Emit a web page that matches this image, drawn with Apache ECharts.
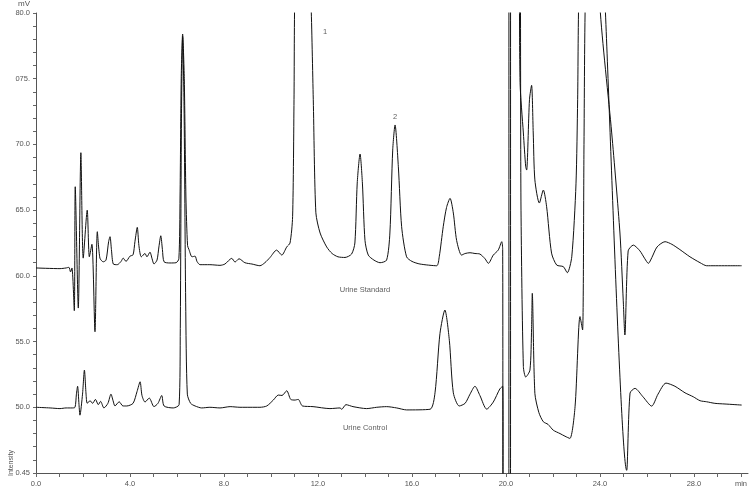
<!DOCTYPE html>
<html>
<head>
<meta charset="utf-8">
<script src="https://cdn.jsdelivr.net/npm/echarts@6/dist/echarts.min.js"></script>
<style>
  html, body { margin: 0; padding: 0; background: #fff; }
  #chart { width: 750px; height: 488px; }
</style>
</head>
<body>
<div id="chart"></div>
<script>
// retention time (min) and signal (mV), Urine Standard (upper trace)
const standardTime = [0.00, 1.02, 1.28, 1.40, 1.47, 1.53, 1.63, 1.67, 1.80, 1.91, 2.01, 2.18, 2.27, 2.38, 2.51, 2.61, 2.72, 2.86, 2.98, 3.09, 3.15, 3.21, 3.29, 3.46, 3.62, 3.71, 3.83, 4.00, 4.13, 4.21, 4.31, 4.38, 4.48, 4.64, 4.72, 4.85, 4.94, 5.02, 5.15, 5.23, 5.31, 5.38, 5.45, 5.70, 5.96, 6.08, 6.13, 6.18, 6.24, 6.31, 6.38, 6.45, 6.51, 6.64, 6.77, 6.85, 6.98, 7.40, 7.83, 8.04, 8.33, 8.47, 8.64, 8.89, 9.19, 9.53, 9.74, 9.96, 10.24, 10.46, 10.67, 10.81, 10.92, 10.98, 11.02, 11.35, 11.70, 11.80, 11.91, 12.09, 12.37, 12.60, 12.85, 13.15, 13.43, 13.57, 13.67, 13.79, 13.89, 14.00, 14.14, 14.38, 14.64, 14.92, 15.06, 15.18, 15.28, 15.42, 15.56, 15.77, 16.00, 16.34, 17.05, 17.16, 17.33, 17.47, 17.62, 17.76, 17.90, 18.11, 18.26, 18.47, 18.68, 18.89, 19.11, 19.25, 19.46, 19.67, 19.82, 19.86, 19.88, 20.12, 20.13, 20.50, 20.60, 20.74, 20.84, 20.88, 21.00, 21.09, 21.16, 21.23, 21.42, 21.59, 21.73, 21.94, 22.16, 22.44, 22.61, 22.80, 22.98, 23.05, 23.11, 23.55, 24.00, 24.50, 24.85, 24.99, 25.06, 25.20, 25.42, 25.70, 25.91, 26.06, 26.21, 26.43, 26.77, 27.06, 27.40, 27.83, 28.26, 28.54, 30.03]
const standardMV = [60.60, 60.55, 60.60, 60.65, 60.30, 60.60, 57.35, 66.78, 57.55, 69.37, 61.35, 65.00, 61.45, 62.40, 55.75, 63.36, 61.35, 61.07, 61.20, 62.60, 62.98, 62.00, 60.90, 60.85, 61.10, 61.35, 61.10, 61.50, 61.60, 62.60, 63.69, 62.30, 61.45, 61.70, 61.45, 61.80, 61.30, 60.90, 61.20, 62.20, 63.05, 62.00, 61.07, 60.98, 61.00, 61.30, 66.00, 75.00, 78.40, 75.00, 66.00, 62.30, 62.00, 61.45, 61.50, 61.10, 60.85, 60.85, 60.80, 60.90, 61.33, 61.05, 61.30, 61.00, 60.90, 60.77, 61.00, 61.40, 61.96, 61.58, 62.20, 62.50, 64.50, 73.40, 82.00, 98.00, 81.00, 73.40, 64.80, 63.26, 62.20, 61.70, 61.45, 61.40, 61.66, 62.50, 67.06, 69.27, 67.06, 62.70, 61.58, 61.20, 61.00, 61.20, 63.26, 69.57, 71.48, 68.30, 63.74, 61.45, 61.10, 60.90, 60.77, 61.45, 63.74, 65.20, 65.90, 64.78, 62.70, 61.58, 61.70, 61.76, 61.70, 61.66, 61.30, 60.95, 61.58, 61.96, 62.60, 62.00, 40.00, 40.00, 90.00, 90.00, 74.70, 70.87, 68.30, 68.05, 73.40, 74.50, 70.87, 67.30, 65.54, 66.53, 65.26, 61.73, 60.82, 60.70, 60.24, 61.45, 67.00, 73.40, 82.00, 100.00, 80.50, 70.87, 63.26, 58.15, 55.50, 61.90, 62.34, 61.90, 61.30, 60.95, 61.40, 62.20, 62.60, 62.40, 62.00, 61.45, 61.00, 60.77, 60.77]

// Urine Control (lower trace)
const controlTime = [0.00, 0.60, 1.02, 1.28, 1.53, 1.66, 1.72, 1.77, 1.83, 1.87, 1.98, 2.06, 2.13, 2.18, 2.30, 2.41, 2.53, 2.65, 2.75, 2.89, 3.06, 3.19, 3.28, 3.36, 3.54, 3.70, 3.86, 4.13, 4.30, 4.43, 4.51, 4.64, 4.82, 5.02, 5.19, 5.35, 5.45, 5.84, 6.09, 6.14, 6.19, 6.24, 6.30, 6.37, 6.44, 6.58, 6.77, 7.05, 7.40, 7.83, 8.26, 8.68, 9.11, 9.53, 9.82, 10.10, 10.31, 10.47, 10.67, 10.84, 11.02, 11.16, 11.34, 11.79, 12.51, 12.94, 13.01, 13.19, 13.49, 14.07, 14.50, 14.92, 15.35, 15.77, 16.77, 16.98, 17.19, 17.40, 17.59, 17.76, 18.01, 18.26, 18.47, 18.68, 18.89, 19.18, 19.46, 19.74, 19.86, 19.89, 20.19, 20.20, 20.56, 20.64, 20.74, 20.84, 21.02, 21.09, 21.12, 21.23, 21.40, 21.59, 21.79, 22.01, 22.30, 22.51, 22.72, 22.94, 23.15, 23.26, 23.32, 23.39, 23.80, 24.21, 25.14, 25.28, 25.49, 25.83, 26.20, 26.47, 26.81, 27.19, 27.62, 27.97, 28.26, 28.54, 28.89, 29.32, 30.03]
const controlMV = [50.00, 49.95, 49.90, 49.95, 49.95, 50.00, 51.00, 51.60, 50.20, 49.40, 51.00, 52.83, 51.00, 50.30, 50.50, 50.30, 50.60, 50.20, 50.45, 49.95, 50.30, 51.00, 50.50, 50.10, 50.42, 50.10, 50.10, 50.30, 51.20, 51.94, 50.90, 50.40, 50.70, 50.05, 50.30, 50.90, 50.10, 49.95, 50.20, 56.00, 72.00, 78.20, 73.00, 58.00, 51.00, 50.30, 50.10, 49.95, 50.00, 49.95, 50.05, 50.00, 50.00, 50.00, 50.10, 50.55, 50.93, 50.90, 51.26, 50.60, 50.55, 50.60, 50.10, 50.05, 49.90, 49.95, 49.85, 50.20, 50.05, 49.90, 50.00, 50.05, 49.95, 49.80, 49.85, 51.10, 55.60, 57.40, 55.10, 51.10, 50.10, 50.30, 51.00, 51.60, 50.90, 49.86, 50.40, 51.40, 51.60, 40.00, 40.00, 90.00, 90.00, 65.00, 53.10, 52.30, 52.83, 56.00, 58.67, 51.06, 49.60, 48.90, 48.70, 48.26, 48.00, 47.80, 47.63, 50.04, 56.90, 55.88, 70.00, 82.00, 100.00, 81.00, 45.20, 51.08, 51.44, 50.80, 50.09, 51.00, 51.84, 51.60, 51.10, 50.80, 50.50, 50.42, 50.30, 50.25, 50.17]

// axis tick labels as printed on the original
const xLabelValues = [0, 4, 8, 12, 16, 20, 24, 28, 30]
const xLabelTexts = ['0.0', '4.0', '8.0', '12.0', '16.0', '20.0', '24.0', '28.0', 'min']
const yLabelValues = [45, 50, 55, 60, 65, 70, 75, 80]
const yLabelTexts = ['0.45', '50.0', '55.0', '60.0', '65.0', '70.0', '075.', '80.0']

// peak numbers and trace names
const noteTexts = ['1', '2', 'Urine Standard', 'Urine Control']
const noteTime = [12.3, 15.28, 14.0, 14.0]
const noteMV = [78.55, 72.1, 58.9, 48.4]

const zip = (xs, ys) => xs.map((x, i) => [x, ys[i]])

const chart = echarts.init(document.getElementById('chart'), null, { renderer: 'canvas' })
const labelFont = 'Liberation Sans, Arial, sans-serif'

const option = {
  animation: false,
  backgroundColor: '#fff',
  grid: { left: 36, right: 1, top: 13, bottom: 15 },
  xAxis: {
    type: 'value',
    min: 0,
    max: 30.3,
    interval: 1,
    axisLine: { show: true, lineStyle: { color: '#555', width: 1 } },
    axisTick: { show: true, length: 4, lineStyle: { color: '#666' } },
    splitLine: { show: false },
    axisLabel: {
      margin: 7,
      fontSize: 7.5,
      color: '#555',
      fontFamily: labelFont,
      showMinLabel: true,
      showMaxLabel: false,
      formatter: (v) => {
        const i = xLabelValues.indexOf(Math.round(v * 100) / 100)
        return i >= 0 ? xLabelTexts[i] : ''
      }
    }
  },
  yAxis: {
    type: 'value',
    min: 45,
    max: 80,
    interval: 1,
    axisLine: { show: true, lineStyle: { color: '#555', width: 1 } },
    axisTick: { show: true, length: 3, lineStyle: { color: '#666' } },
    splitLine: { show: false },
    axisLabel: {
      margin: 6,
      fontSize: 7.5,
      color: '#555',
      fontFamily: labelFont,
      formatter: (v) => {
        const i = yLabelValues.indexOf(Math.round(v))
        return i >= 0 && Math.abs(v - Math.round(v)) < 1e-6 ? yLabelTexts[i] : ''
      }
    }
  },
  graphic: [
    {
      type: 'text',
      left: 18,
      top: 0,
      style: { text: 'mV', fontSize: 8, fill: '#555', fontFamily: labelFont }
    },
    {
      type: 'text',
      x: 8,
      y: 450,
      rotation: Math.PI / 2,
      style: { text: 'Intensity', fontSize: 7, fill: '#555', fontFamily: labelFont, align: 'right' }
    }
  ],
  series: [
    {
      name: 'Urine Standard',
      type: 'line',
      data: zip(standardTime, standardMV),
      showSymbol: false,
      smooth: 0.25,
      clip: true,
      lineStyle: { color: '#111', width: 1 }
    },
    {
      name: 'Urine Control',
      type: 'line',
      data: zip(controlTime, controlMV),
      showSymbol: false,
      smooth: 0.25,
      clip: true,
      lineStyle: { color: '#111', width: 1 }
    },
    {
      name: 'notes',
      type: 'scatter',
      symbolSize: 0,
      silent: true,
      data: noteTexts.map((t, i) => ({ name: t, value: [noteTime[i], noteMV[i]] })),
      label: {
        show: true,
        position: 'inside',
        formatter: '{b}',
        fontSize: 7.5,
        color: '#333',
        fontFamily: labelFont
      }
    }
  ]
}

chart.setOption(option)
</script>
</body>
</html>
